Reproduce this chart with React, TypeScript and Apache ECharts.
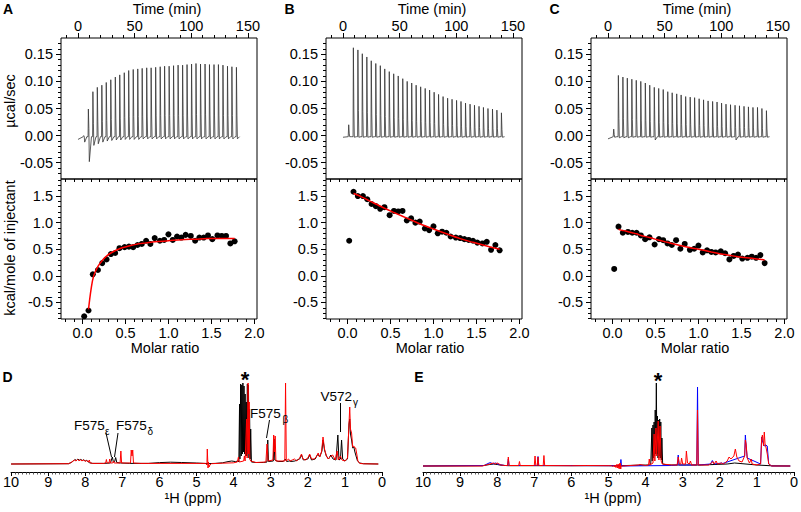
import React, { useEffect, useRef } from "react";
import * as echarts from "echarts";

const FONT = "'Liberation Sans', Arial, Helvetica, sans-serif";

// ---------- tick values ----------
const timeTicks = [0, 50, 100, 150];
const timeMinorTicks = [-10, 0, 10, 20, 30, 40, 50, 60, 70, 80, 90, 100, 110, 120, 130, 140, 150];
const rateTicks = [-0.05, 0, 0.05, 0.1, 0.15];
const rateMinorTicks = [-0.07, -0.06, -0.05, -0.04, -0.03, -0.02, -0.01, 0, 0.01, 0.02, 0.03, 0.04, 0.05, 0.06, 0.07, 0.08, 0.09, 0.1, 0.11, 0.12, 0.13, 0.14, 0.15, 0.16, 0.17];
const molarTicks = [0, 0.5, 1, 1.5, 2];
const molarMinorTicks = [-0.2, -0.1, 0, 0.1, 0.2, 0.3, 0.4, 0.5, 0.6, 0.7, 0.8, 0.9, 1, 1.1, 1.2, 1.3, 1.4, 1.5, 1.6, 1.7, 1.8, 1.9, 2];
const enthalpyTicks = [-0.5, 0, 0.5, 1, 1.5];
const enthalpyMinorTicks = [-0.8, -0.7, -0.6, -0.5, -0.4, -0.3, -0.2, -0.1, 0, 0.1, 0.2, 0.3, 0.4, 0.5, 0.6, 0.7, 0.8, 0.9, 1, 1.1, 1.2, 1.3, 1.4, 1.5, 1.6, 1.7, 1.8];

// ---------- ITC raw data (injection times in min, peak heights in µcal/s) ----------
const injectionTimes = [4.8, 8.9, 12.9, 16.8, 20.8, 24.7, 28.7, 32.7, 36.6, 40.6, 44.5, 48.5, 52.5, 56.4, 60.4, 64.3, 68.3, 72.3, 76.2, 80.2, 84.1, 88.1, 92.1, 96.0, 100.0, 103.9, 107.9, 111.9, 115.8, 119.8, 123.7, 127.7, 131.7, 135.6, 139.6];

const peakA = [0, 0.049, 0.081, 0.089, 0.093, 0.098, 0.103, 0.108, 0.112, 0.116, 0.120, 0.122, 0.123, 0.124, 0.125, 0.125, 0.126, 0.127, 0.128, 0.128, 0.129, 0.130, 0.130, 0.131, 0.132, 0.133, 0.132, 0.132, 0.131, 0.131, 0.131, 0.130, 0.128, 0.127, 0.126];
const dipA = [-0.012, -0.048, -0.018, -0.015, -0.012, -0.010, -0.009, -0.008, -0.008, -0.007, -0.007, -0.007, -0.007, -0.006, -0.006, -0.006, -0.006, -0.006, -0.006, -0.006, -0.006, -0.006, -0.006, -0.006, -0.006, -0.006, -0.006, -0.006, -0.006, -0.006, -0.006, -0.006, -0.006, -0.006, -0.006];

const peakB = [0.02, 0.162, 0.158, 0.151, 0.145, 0.138, 0.133, 0.129, 0.123, 0.118, 0.114, 0.110, 0.105, 0.100, 0.097, 0.093, 0.090, 0.087, 0.084, 0.080, 0.076, 0.072, 0.069, 0.067, 0.065, 0.063, 0.060, 0.058, 0.056, 0.054, 0.052, 0.050, 0.049, 0.047, 0.042];
const dipB = [-0.002, -0.003, -0.003, -0.003, -0.003, -0.003, -0.003, -0.003, -0.003, -0.003, -0.003, -0.003, -0.003, -0.003, -0.003, -0.003, -0.003, -0.003, -0.003, -0.003, -0.003, -0.003, -0.003, -0.003, -0.003, -0.003, -0.003, -0.003, -0.003, -0.003, -0.003, -0.003, -0.003, -0.003, -0.003];

const peakC = [0.012, 0.111, 0.108, 0.106, 0.104, 0.102, 0.100, 0.097, 0.093, 0.089, 0.087, 0.085, 0.081, 0.079, 0.077, 0.075, 0.072, 0.071, 0.070, 0.068, 0.066, 0.064, 0.063, 0.062, 0.060, 0.058, 0.057, 0.056, 0.055, 0.054, 0.053, 0.052, 0.052, 0.050, 0.046];
const dipC = [-0.003, -0.004, -0.004, -0.004, -0.003, -0.003, -0.003, -0.003, -0.003, -0.008, -0.003, -0.003, -0.003, -0.003, -0.003, -0.003, -0.003, -0.003, -0.003, -0.003, -0.003, -0.003, -0.003, -0.003, -0.003, -0.003, -0.003, -0.008, -0.003, -0.003, -0.003, -0.003, -0.003, -0.003, -0.003];

// ---------- ITC integrated data ----------
const molarRatio = [0.02, 0.07, 0.12, 0.18, 0.23, 0.28, 0.33, 0.38, 0.43, 0.49, 0.54, 0.59, 0.64, 0.69, 0.74, 0.79, 0.84, 0.90, 0.95, 1.00, 1.05, 1.10, 1.15, 1.20, 1.26, 1.31, 1.36, 1.41, 1.46, 1.51, 1.57, 1.62, 1.67, 1.72, 1.77];
const enthalpyA = [-0.76, -0.65, 0.03, 0.11, 0.24, 0.31, 0.41, 0.43, 0.52, 0.54, 0.55, 0.54, 0.58, 0.60, 0.66, 0.60, 0.71, 0.66, 0.675, 0.78, 0.675, 0.74, 0.72, 0.77, 0.75, 0.66, 0.72, 0.72, 0.76, 0.69, 0.76, 0.75, 0.75, 0.61, 0.65];
const enthalpyB = [0.66, 1.58, 1.50, 1.50, 1.44, 1.35, 1.31, 1.26, 1.29, 1.14, 1.22, 1.21, 1.22, 1.04, 1.08, 1.00, 1.02, 0.89, 0.86, 0.93, 0.80, 0.83, 0.81, 0.74, 0.72, 0.71, 0.69, 0.675, 0.66, 0.625, 0.61, 0.64, 0.49, 0.58, 0.48];
const enthalpyC = [0.13, 0.925, 0.81, 0.825, 0.81, 0.81, 0.76, 0.69, 0.725, 0.59, 0.69, 0.67, 0.61, 0.58, 0.67, 0.51, 0.60, 0.49, 0.51, 0.57, 0.44, 0.48, 0.45, 0.44, 0.46, 0.425, 0.31, 0.375, 0.40, 0.325, 0.34, 0.36, 0.34, 0.39, 0.24];

const fitMolar = [0.07, 0.10, 0.13, 0.18, 0.23, 0.28, 0.33, 0.43, 0.54, 0.64, 0.74, 0.84, 1.0, 1.15, 1.31, 1.46, 1.62, 1.77];
const fitA = [-0.63, -0.25, 0.0, 0.18, 0.29, 0.37, 0.43, 0.51, 0.56, 0.60, 0.62, 0.64, 0.66, 0.68, 0.69, 0.70, 0.70, 0.70];
const fitB = [1.55, 1.53, 1.51, 1.47, 1.43, 1.39, 1.35, 1.27, 1.19, 1.12, 1.05, 0.98, 0.88, 0.79, 0.70, 0.63, 0.56, 0.50];
const fitC = [0.875, 0.86, 0.85, 0.83, 0.81, 0.79, 0.76, 0.72, 0.67, 0.63, 0.59, 0.55, 0.50, 0.45, 0.40, 0.36, 0.33, 0.30];

// ---------- 1H NMR spectra [ppm, intensity] ----------
const nmrDBlack = [[10, 0], [8.45, 0.3], [8.38, 1.5], [8.32, 3], [8.28, 4.5], [8.24, 3.5], [8.2, 5], [8.16, 3.8], [8.12, 4.6], [8.08, 3.5], [8.04, 4.2], [8.0, 3], [7.96, 3.6], [7.92, 2.2], [7.88, 1.2], [7.8, 0.6], [7.5, 0.6], [7.32, 1], [7.27, 7], [7.24, 1.8], [7.21, 2.2], [7.18, 6.5], [7.15, 1.5], [7.05, 1], [6.8, 0.6], [6.3, 0.6], [6.0, 1.4], [5.7, 1.8], [5.4, 1.5], [5.0, 1], [4.8, 0.6], [4.68, 0.4], [4.5, 0.6], [4.3, 1.2], [4.15, 2.4], [4.05, 3], [3.95, 2.4], [3.88, 3], [3.86, 2], [3.84, 60], [3.83, 5], [3.81, 80], [3.795, 8], [3.78, 79], [3.765, 10], [3.75, 81], [3.735, 12], [3.72, 78], [3.705, 10], [3.69, 70], [3.675, 8], [3.66, 62], [3.645, 8], [3.63, 80], [3.615, 10], [3.60, 79], [3.585, 6], [3.57, 55], [3.555, 5], [3.54, 35], [3.52, 2], [3.4, 1.5], [3.2, 1.5], [3.1, 2], [3.08, 24], [3.06, 2.5], [2.93, 3], [2.91, 25], [2.89, 4], [2.8, 2.5], [2.66, 2.5], [2.61, 5], [2.57, 2.5], [2.5, 3], [2.45, 2.5], [2.35, 3], [2.22, 5], [2.17, 9], [2.12, 4], [2.0, 5], [1.95, 9], [1.9, 4], [1.8, 5], [1.73, 10], [1.68, 7], [1.62, 13], [1.59, 24], [1.55, 14], [1.5, 8], [1.44, 5], [1.38, 9], [1.32, 5], [1.24, 4], [1.19, 29], [1.16, 4], [1.12, 5], [1.09, 24], [1.06, 5], [1.0, 3], [0.93, 5], [0.89, 40], [0.87, 45], [0.85, 30], [0.82, 24], [0.79, 16], [0.76, 17], [0.73, 12], [0.70, 8], [0.66, 3], [0.6, 1], [0.5, 0.3], [0.1, 0]];
const nmrDRed = [[10, 0], [8.45, 0.3], [8.38, 1.5], [8.33, 3], [8.29, 4], [8.25, 3], [8.21, 4.5], [8.17, 3.4], [8.13, 4.2], [8.09, 3.2], [8.05, 4], [8.0, 2.8], [7.96, 3.4], [7.92, 2], [7.89, 4], [7.87, 1.2], [7.8, 0.6], [7.5, 0.6], [7.45, 1], [7.43, 4.5], [7.41, 1], [7.36, 1], [7.34, 5], [7.32, 1], [7.26, 1], [7.24, 3], [7.22, 1], [7.06, 1], [7.04, 13], [7.02, 1], [6.78, 1], [6.76, 14], [6.74, 8], [6.72, 14], [6.70, 1], [6.5, 0.6], [5.5, 0.6], [4.9, 0.6], [4.76, 0.6], [4.72, -1], [4.71, 15], [4.69, -4], [4.68, 2], [4.66, -3], [4.64, -1], [4.6, 0.3], [4.3, 0.8], [4.0, 1.2], [3.9, 2], [3.87, 7], [3.85, 2], [3.73, 3], [3.71, 8], [3.69, 3], [3.65, 45], [3.635, 6], [3.61, 81], [3.595, 10], [3.58, 62], [3.565, 5], [3.54, 3], [3.4, 1.5], [3.13, 2], [3.10, 20], [3.07, 3], [2.94, 4], [2.92, 29], [2.90, 12], [2.88, 28], [2.86, 3], [2.7, 3], [2.62, 3], [2.60, 81], [2.58, 3], [2.52, 5], [2.48, 3], [2.42, 4], [2.36, 5], [2.3, 3], [2.22, 6], [2.17, 10], [2.13, 5], [2.07, 4], [2.0, 6], [1.95, 10], [1.9, 5], [1.82, 5], [1.76, 8], [1.72, 11], [1.68, 7], [1.63, 12], [1.59, 27], [1.55, 15], [1.5, 8], [1.45, 5], [1.38, 8], [1.33, 9], [1.26, 4], [1.21, 13], [1.18, 4], [1.12, 8], [1.08, 4], [1.0, 3], [0.93, 6], [0.89, 40], [0.87, 57], [0.85, 35], [0.82, 31], [0.79, 17], [0.76, 18], [0.73, 16], [0.71, 16], [0.68, 10], [0.65, 3], [0.6, 0.6], [0.5, 0.2], [0.1, 0]];

const nmrEBlack = [[10, 0], [8.4, 0.3], [8.2, 1.5], [8.1, 2], [8.0, 1.5], [7.9, 0.8], [7.7, 0.3], [5.0, 0.3], [4.8, 0.2], [4.2, 0.8], [3.9, 1], [3.86, 2], [3.83, 38], [3.82, 5], [3.80, 41], [3.785, 8], [3.77, 44], [3.755, 10], [3.74, 56], [3.725, 12], [3.71, 83], [3.695, 12], [3.68, 50], [3.665, 8], [3.65, 46], [3.635, 10], [3.62, 47], [3.605, 8], [3.59, 44], [3.575, 6], [3.56, 28], [3.54, 2], [3.4, 1], [2.9, 1], [2.5, 1], [1.8, 2], [1.6, 3], [1.0, 1], [0.6, 0.2], [0.1, 0]];
const nmrEBlue = [[10, 0], [8.35, 0.5], [8.25, 2.5], [8.18, 3.5], [8.12, 2], [8.05, 3], [7.95, 1.5], [7.8, 0.5], [7.72, 0.5], [7.70, 7], [7.68, 0.5], [6.92, 0.5], [6.90, 9.5], [6.88, 0.5], [4.74, 0.3], [4.68, 0], [4.665, 6.5], [4.65, 0], [3.3, 0.5], [3.14, 1], [3.12, 11], [3.10, 1], [2.62, 1], [2.60, 79], [2.58, 1], [2.25, 2], [2.20, 5.5], [2.15, 2], [1.95, 3], [1.92, 2.5], [1.33, 10], [1.31, 31], [1.29, 20], [1.26, 8], [0.9, 2], [0.87, 29], [0.85, 25], [0.80, 20], [0.76, 21], [0.72, 20], [0.68, 2], [0.6, 0], [0.1, 0]];
const nmrERed = [[10, 0], [8.4, 0], [8.3, 1], [8.2, 2], [8.1, 3], [8.05, 2], [8.0, 3], [7.95, 2], [7.9, 1], [7.8, 0.5], [7.72, 0.5], [7.70, 9], [7.68, 0.5], [7.42, 0.5], [7.40, 4.5], [7.38, 0.5], [7.0, 0.5], [6.98, 10], [6.96, 0.5], [6.92, 0.5], [6.90, 9], [6.88, 0.5], [6.76, 0.5], [6.74, 10.5], [6.72, 0.5], [6.0, 0.3], [5.6, 0.5], [4.92, 0.3], [4.90, 0], [4.88, -0.5], [4.86, 0.5], [4.84, -1], [4.82, 1], [4.80, -1.5], [4.78, 1.5], [4.76, -2], [4.74, 2], [4.72, -2.5], [4.70, 2.5], [4.69, -3], [4.68, 3], [4.67, -3], [4.66, 0], [4.6, 0], [4.2, 1], [4.15, 1.5], [4.0, 0.5], [3.92, 1], [3.90, 7], [3.88, 1], [3.80, 3], [3.77, 32], [3.75, 5], [3.72, 38], [3.70, 10], [3.66, 45], [3.64, 6], [3.61, 40], [3.58, 5], [3.55, 2], [3.3, 1], [3.15, 1], [3.12, 9], [3.09, 2], [3.05, 2], [3.03, 8], [3.0, 2], [2.92, 2], [2.90, 15], [2.87, 3], [2.82, 2], [2.79, 5], [2.76, 1], [2.62, 1], [2.60, 56], [2.58, 1], [2.3, 1], [2.22, 3], [2.19, 4.5], [2.15, 2], [2.10, 5], [2.06, 2], [1.95, 3], [1.9, 2], [1.8, 5], [1.75, 9], [1.7, 7], [1.62, 10], [1.58, 17], [1.54, 9], [1.48, 5], [1.4, 4], [1.33, 10], [1.31, 26], [1.29, 22], [1.26, 8], [1.2, 3], [1.15, 7], [1.13, 2], [1.0, 1], [0.9, 2], [0.87, 28], [0.85, 31], [0.82, 20], [0.80, 34], [0.78, 22], [0.75, 18], [0.72, 12], [0.68, 2], [0.6, 0], [0.1, 0]];

// ---------- helpers ----------
const BASE = -0.002;
function buildThermogram(peaks: number[], dips: number[], startBase: number) {
  const pts: number[][] = [[0, startBase], [injectionTimes[0] - 0.2, BASE]];
  injectionTimes.forEach((t, i) => {
    const h = peaks[i];
    pts.push([t, BASE], [t + 0.25, h], [t + 0.7, BASE + 0.3 * (h - BASE)], [t + 1.1, dips[i]], [t + 3.0, BASE]);
  });
  pts.push([143, BASE]);
  return pts;
}

const tickLine = { color: "#000", width: 1 };
const labelBase = { color: "#000", fontSize: 14.5, fontFamily: FONT };

function buildOption() {
  const grids: any[] = [];
  const xAxes: any[] = [];
  const yAxes: any[] = [];
  const series: any[] = [];

  const addItc = (left: number, peaks: number[], dips: number[], startBase: number, enth: number[], fit: number[]) => {
    const gi = grids.length;
    grids.push({ left, top: 38, width: 196, height: 141, show: true, borderColor: "#000", borderWidth: 1, backgroundColor: "transparent" });
    grids.push({ left, top: 179, width: 196, height: 140, show: true, borderColor: "#000", borderWidth: 1, backgroundColor: "transparent" });
    const xi = xAxes.length;
    const yi = yAxes.length;
    const common = { type: "value", splitLine: { show: false }, axisLine: { show: false, onZero: false } };
    xAxes.push({ ...common, gridIndex: gi, position: "top", min: -15, max: 158,
      axisTick: { show: true, length: 5, customValues: timeTicks, lineStyle: tickLine },
      axisLabel: { show: true, customValues: timeTicks, margin: 5, ...labelBase, formatter: (v: number) => String(Math.round(v)) } });
    xAxes.push({ ...common, gridIndex: gi, position: "top", min: -15, max: 158,
      axisTick: { show: true, length: 3, customValues: timeMinorTicks, lineStyle: tickLine }, axisLabel: { show: false } });
    xAxes.push({ ...common, gridIndex: gi + 1, position: "bottom", min: -0.25, max: 2.03,
      axisTick: { show: true, length: 5, customValues: molarTicks, lineStyle: tickLine },
      axisLabel: { show: true, customValues: molarTicks, margin: 6, ...labelBase, formatter: (v: number) => v.toFixed(1) } });
    xAxes.push({ ...common, gridIndex: gi + 1, position: "bottom", min: -0.25, max: 2.03,
      axisTick: { show: true, length: 3, customValues: molarMinorTicks, lineStyle: tickLine }, axisLabel: { show: false } });
    xAxes.push({ ...common, gridIndex: gi + 1, position: "top", min: -0.25, max: 2.03,
      axisTick: { show: true, inside: true, length: 3, customValues: molarMinorTicks, lineStyle: tickLine }, axisLabel: { show: false } });
    yAxes.push({ ...common, gridIndex: gi, position: "left", min: -0.08, max: 0.18,
      axisTick: { show: true, length: 5, customValues: rateTicks, lineStyle: tickLine },
      axisLabel: { show: true, customValues: rateTicks, margin: 8, ...labelBase, formatter: (v: number) => v.toFixed(2) } });
    yAxes.push({ ...common, gridIndex: gi, position: "left", min: -0.08, max: 0.18,
      axisTick: { show: true, length: 3, customValues: rateMinorTicks, lineStyle: tickLine }, axisLabel: { show: false } });
    yAxes.push({ ...common, gridIndex: gi + 1, position: "left", min: -0.81, max: 1.82,
      axisTick: { show: true, length: 5, customValues: enthalpyTicks, lineStyle: tickLine },
      axisLabel: { show: true, customValues: enthalpyTicks, margin: 8, ...labelBase, formatter: (v: number) => v.toFixed(1) } });
    yAxes.push({ ...common, gridIndex: gi + 1, position: "left", min: -0.81, max: 1.82,
      axisTick: { show: true, length: 3, customValues: enthalpyMinorTicks, lineStyle: tickLine }, axisLabel: { show: false } });

    series.push({ type: "line", xAxisIndex: xi, yAxisIndex: yi, data: buildThermogram(peaks, dips, startBase),
      symbol: "none", showSymbol: false, silent: true, lineStyle: { color: "#333", width: 0.8 } });
    series.push({ type: "scatter", xAxisIndex: xi + 2, yAxisIndex: yi + 2, data: molarRatio.map((m, i) => [m, enth[i]]),
      symbolSize: 6, itemStyle: { color: "#000", opacity: 1 }, silent: true });
    series.push({ type: "line", xAxisIndex: xi + 2, yAxisIndex: yi + 2, data: fitMolar.map((m, i) => [m, fit[i]]),
      smooth: 0.35, symbol: "none", showSymbol: false, silent: true, lineStyle: { color: "#ff0000", width: 1.5 } });
  };

  addItc(61, peakA, dipA, -0.007, enthalpyA, fitA);
  addItc(326, peakB, dipB, -0.003, enthalpyB, fitB);
  addItc(591, peakC, dipC, -0.006, enthalpyC, fitC);

  const addNmr = (left: number, yMin: number, traces: { data: number[][]; color: string }[]) => {
    const gi = grids.length;
    grids.push({ left, top: 372, width: 372, height: 100, show: false });
    const xi = xAxes.length;
    const yi = yAxes.length;
    xAxes.push({ type: "value", gridIndex: gi, min: 0, max: 10, interval: 1, inverse: true, position: "bottom",
      splitLine: { show: false },
      axisLine: { show: true, onZero: false, lineStyle: { color: "#000", width: 1 } },
      axisTick: { show: true, length: 4, lineStyle: tickLine },
      minorTick: { show: true, splitNumber: 10, length: 2.5, lineStyle: { color: "#333", width: 0.8 } },
      axisLabel: { margin: 2, color: "#000", fontSize: 14.5, fontFamily: FONT, formatter: (v: number) => String(Math.round(v)) } });
    yAxes.push({ type: "value", gridIndex: gi, min: yMin, max: yMin + 100, show: false, splitLine: { show: false } });
    traces.forEach((tr) => {
      series.push({ type: "line", xAxisIndex: xi, yAxisIndex: yi, data: tr.data, symbol: "none", showSymbol: false,
        silent: true, lineStyle: { color: tr.color, width: 1 } });
    });
  };

  addNmr(10, -8, [{ data: nmrDBlack, color: "#000" }, { data: nmrDRed, color: "#ff0000" }]);
  addNmr(423, -6, [{ data: nmrEBlack, color: "#000" }, { data: nmrEBlue, color: "#0000ff" }, { data: nmrERed, color: "#ff0000" }]);

  const txt = (text: string, x: number, y: number, size: number, extra: any = {}, rotation = 0) => ({
    type: "text", x, y, rotation, silent: true, z: 100,
    style: { text, fontSize: size, fontFamily: FONT, fill: "#000", textAlign: "center", textVerticalAlign: "middle", ...extra },
  });
  const txtL = (text: string, x: number, y: number, size: number) => ({
    type: "text", x, y, silent: true, z: 100,
    style: { text, fontSize: size, fontFamily: FONT, fill: "#000", textAlign: "left", textVerticalAlign: "middle" },
  });
  const ln = (x1: number, y1: number, x2: number, y2: number) => ({
    type: "line", silent: true, z: 100, shape: { x1, y1, x2, y2 }, style: { stroke: "#000", lineWidth: 1 },
  });

  const graphic: any[] = [
    txt("A", 8, 9, 14, { fontWeight: "bold" }),
    txt("B", 289.5, 9, 14, { fontWeight: "bold" }),
    txt("C", 554.5, 9, 14, { fontWeight: "bold" }),
    txt("D", 7.5, 377, 14, { fontWeight: "bold" }),
    txt("E", 419, 377, 14, { fontWeight: "bold" }),
    txt("Time (min)", 167, 8.5, 14.5),
    txt("Time (min)", 432, 8.5, 14.5),
    txt("Time (min)", 697, 8.5, 14.5),
    txt("Molar ratio", 165, 348, 14.5),
    txt("Molar ratio", 430, 348, 14.5),
    txt("Molar ratio", 695, 348, 14.5),
    txt("µcal/sec", 10, 101, 14.5, {}, Math.PI / 2),
    txt("kcal/mole of injectant", 9.5, 248, 14.5, {}, Math.PI / 2),
    txt("¹H (ppm)", 193, 498, 14.5),
    txt("¹H (ppm)", 613, 498, 14.5),
    txt("*", 245, 379, 22, { fontWeight: "bold" }),
    txt("*", 658, 380, 22, { fontWeight: "bold" }),
    txtL("F575", 74, 425, 13.5),
    txtL("ε", 105, 431, 10),
    txtL("F575", 116, 425, 13.5),
    txtL("δ", 147.5, 431, 10),
    txtL("F575", 250, 413, 13.5),
    txtL("β", 282.5, 419, 10),
    txtL("V572", 320.5, 396, 13.5),
    txtL("γ", 353, 402, 10),
    ln(106, 433, 111.5, 457),
    ln(118, 433, 114.5, 457),
    ln(269.5, 420, 266.5, 438),
    ln(340.5, 403, 340.5, 432),
  ];

  return {
    animation: false,
    backgroundColor: "#fff",
    grid: grids,
    xAxis: xAxes,
    yAxis: yAxes,
    series,
    graphic,
  };
}

export default function App() {
  const ref = useRef<HTMLDivElement | null>(null);
  useEffect(() => {
    if (!ref.current) return;
    const chart = echarts.init(ref.current, undefined, { renderer: "svg" });
    chart.setOption(buildOption() as any);
    return () => chart.dispose();
  }, []);
  return <div ref={ref} style={{ position: "absolute", left: 0, top: 0, width: 801, height: 512 }} />;
}
